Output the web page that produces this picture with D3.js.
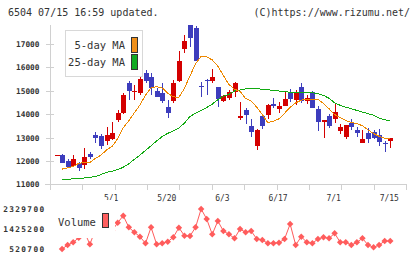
<!DOCTYPE html>
<html>
<head>
<meta charset="utf-8">
<script src="https://d3js.org/d3.v7.min.js"></script>
<style>
  body { margin: 0; background: #fff; }
  text { font-family: "DejaVu Sans Mono", monospace; fill: #333; }
</style>
</head>
<body>
<div id="chart"></div>
<script>
// daily prices, oldest first
const openP  = [12220,12240,11990,11780,11900,11825,12310,13100,13060,12860,12920,13750,14030,15340,14950,14890,15770,15600,14990,14890,
                14290,14560,15410,16800,17800,17680,15200,15460,15410,15170,14560,14700,14960,13850,14180,13490,12640,13920,13960,14420,
                14230,14360,14960,14600,15140,14560,14930,14200,13680,13920,13790,13290,13040,13630,13320,12780,13180,13250,13110,12760,12860];
const highP  = [12250,12280,12080,12250,11970,12540,12390,13220,13150,13430,13650,14180,14900,15410,15240,15600,15890,15740,15100,15320,
                14600,15460,16700,17380,17810,17770,15390,15490,15910,15170,14820,15050,15390,14520,14250,13790,13350,13920,14430,14670,
                14530,14990,15070,15030,15340,14840,14990,14350,13750,14000,14490,13580,13530,13790,13430,13320,13390,13320,13360,12860,12990];
const lowP   = [12220,11900,11710,11730,11570,11650,12080,12760,12520,12690,12890,13680,13990,14600,14600,14820,15320,14820,14720,14490,
                13850,14490,15360,16630,16880,16280,14750,14820,15320,14290,14530,14600,14720,13730,13560,13040,12470,13350,13790,14250,
                14060,14360,14500,14390,14490,14420,14270,13290,13000,13390,13630,13150,12950,13320,13040,12750,12780,12920,12650,12390,12560];
const closeP = [12240,11920,11750,12070,11710,12155,12170,12960,12640,13110,13200,14050,14820,15000,14970,15490,15410,15100,14750,14560,
                14060,15340,16270,17120,17270,16290,15150,15410,15600,14640,14770,14960,15340,13900,13960,13250,13320,13500,14390,14360,
                14350,14650,14650,14890,14570,14670,14270,13680,13740,13490,14080,13460,13530,13460,13210,12940,12950,12990,12820,12720,12990];

const ma5  = [null,11650,11700,11760,11900,11923,11930,12110,12250,12466,12620,12950,13420,13720,14060,14389,14816,15120,15172,15120,
              14900,14740,14720,15100,15640,16150,16480,16450,16320,16050,15650,15270,15060,14980,14670,14560,14300,13990,13633,13700,
              13800,14040,14290,14480,14603,14630,14610,14630,14450,14230,13980,13860,13730,13640,13600,13500,13330,13170,13050,12970,12966];
const ma25 = [null,11190,11220,11230,11250,11270,11300,11330,11420,11510,11560,11630,11730,11880,12070,12250,12450,12650,12850,13040,
              13180,13280,13400,13620,13900,14040,14150,14280,14430,14620,14760,14850,14990,15030,15080,15100,15100,15060,15040,15020,
              14990,14960,14940,14930,14930,14925,14915,14880,14800,14680,14480,14380,14300,14230,14160,14090,14020,13960,13830,13760,13718];

const volume = [null,520700,701600,823700,1030000,1300000,733000,1400000,1250000,1500000,1350000,1710000,2026700,1502000,1276000,1077000,778500,1502000,733000,778500,
                851000,1050000,1484000,1122000,1108000,1502000,2329700,1877000,1185000,1787000,1335000,1185000,1005000,1425000,1276000,1335000,973000,927700,778500,778500,
                805600,973000,1651000,701600,1077000,823700,778500,973000,1050000,1005000,1231000,823700,823700,701600,823700,1005000,701600,597600,701600,882500,882500];

const xLabels = ["5/1","5/20","6/3","6/17","7/1","7/15"];
const xLabelIdx = [10,20,30,40,50,60];
const priceTicks = [11000,12000,13000,14000,15000,16000,17000];
const volTicks = [520700,1425200,2329700];

const W = 420, H = 259;
const svg = d3.select("#chart").append("svg")
  .attr("width", W).attr("height", H)
  .style("display", "block");

const x = d3.scaleLinear().domain([-1.17, 62.83]).range([50, 406]);
const y = d3.scaleLinear().domain([11000, 17000]).range([184.3, 44]);
const yv = d3.scaleLinear().domain([520700, 2329700]).range([249, 209]);
const grid = d3.scaleLinear().domain([0, 11]).range([50, 406]);

const grey = "#d0d0d0";
const px = v => Math.round(v) + 0.5;

// header
svg.append("text").attr("x", 8).attr("y", 16).style("font-size", "10px")
  .text("6504 07/15 16:59 updated.");
svg.append("text").attr("x", 410).attr("y", 16).attr("text-anchor", "end").style("font-size", "10px")
  .text("(C)https://www.rizumu.net/");

// axes
const axG = svg.append("g").attr("shape-rendering", "crispEdges");
axG.append("line").attr("x1", 50.5).attr("x2", 50.5).attr("y1", 25).attr("y2", 190).attr("stroke", grey);
axG.append("line").attr("x1", 45).attr("x2", 406).attr("y1", px(y(11000))).attr("y2", px(y(11000))).attr("stroke", grey);
axG.selectAll("line.xt").data(d3.range(12)).enter().append("line")
  .attr("class", "xt")
  .attr("x1", d => px(grid(d))).attr("x2", d => px(grid(d)))
  .attr("y1", 184).attr("y2", 190).attr("stroke", grey);

const yAxis = svg.append("g")
  .attr("transform", "translate(50.5,0)")
  .call(d3.axisLeft(y).tickValues(priceTicks).tickSize(5).tickPadding(6).tickFormat(d3.format("d")));
yAxis.select(".domain").remove();
yAxis.selectAll(".tick line").attr("x1", 3).attr("stroke", grey).attr("shape-rendering", "crispEdges");
yAxis.selectAll(".tick text").style("font-size", "7.8px").style("font-weight", "bold")
  .attr("font-family", null).style("fill", "#333");

svg.selectAll("text.xl").data(xLabels).enter().append("text")
  .attr("class", "xl")
  .attr("x", (d, i) => x(xLabelIdx[i]) - 1)
  .attr("y", 201)
  .attr("text-anchor", "middle")
  .style("font-size", "8px")
  .text(d => d);

svg.selectAll("text.vl").data(volTicks).enter().append("text")
  .attr("class", "vl")
  .attr("x", 45.5)
  .attr("y", d => yv(d) + 3)
  .attr("text-anchor", "end")
  .style("font-size", "7.8px").style("font-weight", "bold").style("letter-spacing", "1.35px")
  .text(d => d);

// candles
const idx = d3.range(closeP.length);
const cg = svg.append("g").attr("shape-rendering", "crispEdges");
cg.selectAll("line.wick").data(idx).enter().append("line")
  .attr("x1", i => px(x(i))).attr("x2", i => px(x(i)))
  .attr("y1", i => y(highP[i])).attr("y2", i => y(lowP[i]))
  .attr("stroke", i => closeP[i] >= openP[i] ? "#d40000" : "#3d3dbd");
cg.selectAll("rect.body").data(idx).enter().append("rect")
  .attr("x", i => Math.round(x(i)) - 2)
  .attr("width", 5)
  .attr("y", i => y(Math.max(openP[i], closeP[i])))
  .attr("height", i => Math.max(1, Math.abs(y(openP[i]) - y(closeP[i]))))
  .attr("fill", i => closeP[i] >= openP[i] ? "#d40000" : "#3d3dbd");

// moving averages
const maLine = d3.line().defined(d => d != null).x((d, i) => x(i)).y(d => y(d));
svg.append("path").datum(ma25).attr("d", maLine).attr("fill", "none")
  .attr("stroke", "#11aa11").attr("stroke-width", 1).attr("shape-rendering", "crispEdges");
svg.append("path").datum(ma5).attr("d", maLine).attr("fill", "none")
  .attr("stroke", "#ee8800").attr("stroke-width", 1).attr("shape-rendering", "crispEdges");

// volume
const vLine = d3.line().defined(d => d != null).x((d, i) => x(i)).y(d => yv(d));
svg.append("path").datum(volume).attr("d", vLine).attr("fill", "none")
  .attr("stroke", "#ff5c5c").attr("stroke-width", 1);
svg.selectAll("path.vm").data(idx.filter(i => volume[i] != null)).enter().append("path")
  .attr("class", "vm")
  .attr("d", d3.symbol(d3.symbolSquare, 21))
  .attr("transform", i => `translate(${x(i)},${yv(volume[i])}) rotate(45)`)
  .attr("fill", "#ff5c5c");

// legends
const lg = svg.append("g").attr("shape-rendering", "crispEdges");
lg.append("rect").attr("x", 65.5).attr("y", 30.5).attr("width", 77).attr("height", 46)
  .attr("fill", "#fff").attr("stroke", "#d8d8d8");
const legItems = [["5-day MA", "#f0901a", 37.5], ["25-day MA", "#11aa22", 54.5]];
legItems.forEach(([t, c, yy]) => {
  lg.append("text").attr("x", 125).attr("y", yy + 11).attr("text-anchor", "end")
    .style("font-size", "10.5px").text(t);
  lg.append("rect").attr("x", 131.5).attr("y", yy).attr("width", 6).attr("height", 15)
    .attr("fill", c).attr("stroke", "#333");
});

lg.append("rect").attr("x", 55).attr("y", 200).attr("width", 60).attr("height", 37.5).attr("fill", "#fff");
lg.append("text").attr("x", 58).attr("y", 226).style("font-size", "10.5px").text("Volume");
lg.append("rect").attr("x", 102.5).attr("y", 213.5).attr("width", 6).attr("height", 14)
  .attr("fill", "#ff6060").attr("stroke", "#333");
</script>
</body>
</html>
